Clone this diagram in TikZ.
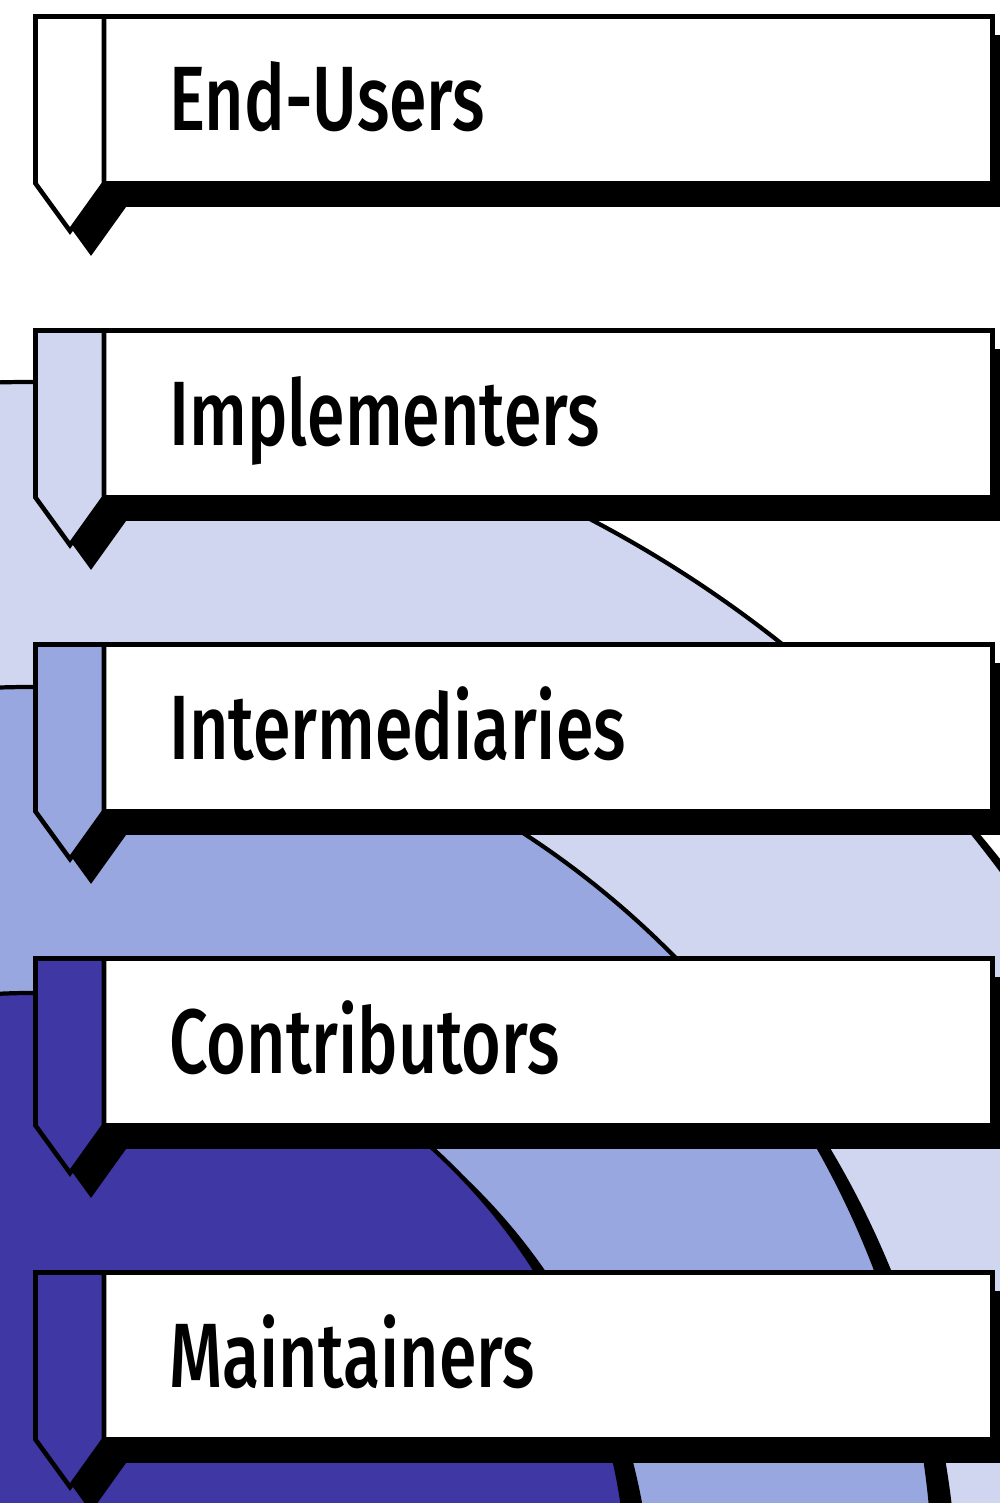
\documentclass[tikz,border=0pt]{standalone}
\usepackage{fontspec}
\newfontfamily\tagfont{Fira Sans}[FakeStretch=0.745, UprightFont=* Medium]

\begin{document}
\begin{tikzpicture}[x=0.01cm, y=0.01cm,
  tag text/.style={font=\tagfont\fontsize{26}{30}\selectfont, inner sep=0pt, anchor=base west}]
  % Define colors
  \definecolor{ringlight}{RGB}{208,214,240}
  \definecolor{ringmid}{RGB}{153,167,224}
  \definecolor{ringdark}{RGB}{63,55,163}

  % Frame
  \useasboundingbox (0,0) rectangle (1000,-1503);
  \clip (0,0) rectangle (1000,-1503);

  % Rings, outermost first, each over its own shadow
  \foreach \r/\c in {1210/ringlight, 905/ringmid, 599/ringdark} {
    \filldraw[black, line width=1.2pt] (51,-1613) circle[radius=\r];
    \filldraw[fill=\c, draw=black, line width=1.2pt] (30,-1592) circle[radius=\r];
  }

  % Tags
  \foreach \c/\txt [count=\k from 0] in {white/End-Users, ringlight/Implementers,
      ringmid/Intermediaries, ringdark/Contributors, ringdark/Maintainers} {
    \begin{scope}[shift={(0,-314*\k)}, line width=1.3pt]
      % shadow
      \filldraw[black, shift={(21,-21)}] (35.5,-16.5) -- (992.5,-16.5) -- (992.5,-183.5)
        -- (104,-183.5) -- (70,-231) -- (35.5,-183.5) -- cycle;
      % box and pennant
      \filldraw[fill=white] (104,-16.5) rectangle (992.5,-183.5);
      \filldraw[fill=\c] (35.5,-16.5) -- (104,-16.5) -- (104,-183.5)
        -- (70,-231) -- (35.5,-183.5) -- cycle;
      \node[tag text] (label\k) at (167,-131) {\txt};
    \end{scope}
  }
\end{tikzpicture}
\end{document}
